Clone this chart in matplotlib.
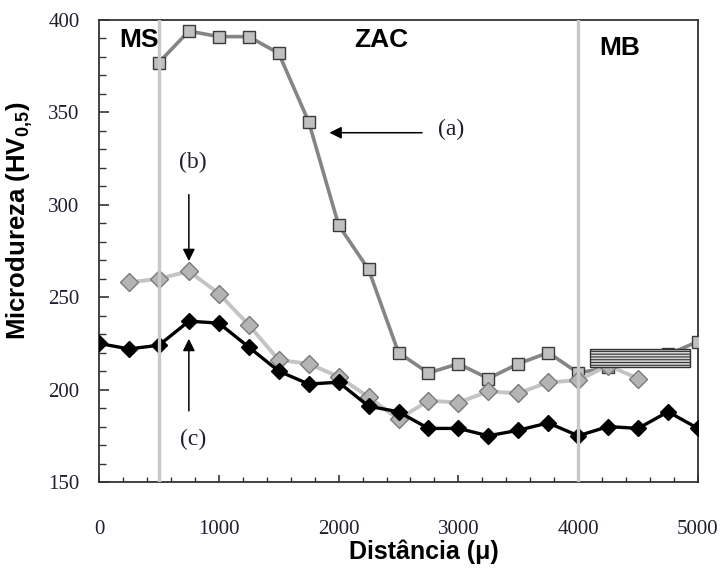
import matplotlib
matplotlib.use('Agg')
import matplotlib.pyplot as plt
from matplotlib.patches import Rectangle
from matplotlib.ticker import MultipleLocator

plt.rcParams['mathtext.fontset'] = 'custom'
plt.rcParams['mathtext.bf'] = 'Liberation Sans:bold'
plt.rcParams['mathtext.rm'] = 'Liberation Sans'
plt.rcParams['hatch.linewidth'] = 0.8

# distance (um) and hardness values
x_a = [500, 750, 1000, 1250, 1500, 1750, 2000, 2250, 2500, 2750, 3000, 3250, 3500, 3750, 4000, 4250, 4500, 4750, 5000]
hv_a = [377, 394, 391, 391, 382, 345, 289, 265, 220, 209, 214, 206, 214, 220, 209, 212, 216, 219, 226]

x_b = [250, 500, 750, 1000, 1250, 1500, 1750, 2000, 2250, 2500, 2750, 3000, 3250, 3500, 3750, 4000, 4250, 4500]
hv_b = [258, 260, 264, 252, 235, 216, 214, 207, 196, 184, 194, 193, 199, 198, 204, 205, 213, 206]

x_c = [0, 250, 500, 750, 1000, 1250, 1500, 1750, 2000, 2250, 2500, 2750, 3000, 3250, 3500, 3750, 4000, 4250, 4500, 4750, 5000]
hv_c = [225, 222, 224, 237, 236, 223, 210, 203, 204, 191, 188, 179, 179, 175, 178, 182, 175, 180, 179, 188, 179]

zone_limits = [500, 4000]
zones = ['MS', 'ZAC', 'MB']
zone_x = [333, 2360, 4350]
zone_y = [389, 389, 385]

serif = 'Liberation Serif'
sans = 'Liberation Sans'
txtcol = '#1f1f2e'

fig = plt.figure(figsize=(7.25, 5.68), dpi=100)
ax = fig.add_axes([99/725, 1 - 482/568, 599/725, 462/568])

ax.plot(x_a, hv_a, color='#858585', lw=2.6, marker='s', ms=8.8,
        mfc='#c0c0c0', mec='#3a3a3a', mew=1.0, zorder=3)
ax.plot(x_b, hv_b, color='#c4c4c4', lw=2.8, marker='D', ms=9,
        mfc='#b4b4b4', mec='#7a7a7a', mew=1.0, zorder=3)
ax.plot(x_c, hv_c, color='black', lw=2.4, marker='D', ms=8.5,
        mfc='black', mec='black', zorder=4)

for xv in zone_limits:
    ax.axvline(xv, color='#c8c8c8', lw=2.4, zorder=5)

ax.add_patch(Rectangle((4100, 212), 830, 10, facecolor='#d4d4d4',
                       edgecolor='#333333', hatch='------', lw=1.0, zorder=6))

for name, zx, zy in zip(zones, zone_x, zone_y):
    ax.text(zx, zy, name, fontsize=19, fontweight='bold', family=sans,
            ha='center', va='center', zorder=7)

arrow = dict(arrowstyle='-|>', color='black', lw=1.1, mutation_scale=18)
ax.annotate('', xy=(1900, 339), xytext=(2720, 339), arrowprops=arrow)
ax.text(2940, 341, '(a)', fontsize=17, family=serif, color=txtcol, ha='center', va='center')
ax.annotate('', xy=(750, 268), xytext=(750, 307), arrowprops=arrow)
ax.text(783, 323, '(b)', fontsize=17, family=serif, color=txtcol, ha='center', va='center')
ax.annotate('', xy=(750, 229), xytext=(750, 187), arrowprops=arrow)
ax.text(783, 173, '(c)', fontsize=17, family=serif, color=txtcol, ha='center', va='center')

ax.set_xlim(0, 5000)
ax.set_ylim(150, 400)
ax.xaxis.set_major_locator(MultipleLocator(1000))
ax.xaxis.set_minor_locator(MultipleLocator(200))
ax.yaxis.set_major_locator(MultipleLocator(50))
ax.yaxis.set_minor_locator(MultipleLocator(10))
ax.tick_params(which='both', direction='in', top=False, right=False, color='#333333')
ax.tick_params(axis='x', which='major', length=5, width=1.2, pad=27)
ax.tick_params(axis='x', which='minor', length=3.8, width=1.0)
ax.tick_params(axis='y', which='major', length=7.2, width=1.2, pad=14)
ax.tick_params(axis='y', which='minor', length=5, width=1.0)
for lab in ax.get_xticklabels() + ax.get_yticklabels():
    lab.set_family(serif)
    lab.set_fontsize(15)
    lab.set_color(txtcol)
for sp in ax.spines.values():
    sp.set_color('#333333')
    sp.set_linewidth(1.3)

ax.set_xlabel('Distância (μ)', fontsize=18, fontweight='bold', family=sans)
ax.xaxis.label.set_va('center')
ax.xaxis.set_label_coords(0.543, -0.152)
ax.set_ylabel(r'Microdureza (HV$_{\mathbf{0{,}5}}$)', fontsize=18.5, fontweight='bold', family=sans)
ax.yaxis.set_label_coords(-0.107, 0.565)

fig.savefig('out.png', dpi=100)
